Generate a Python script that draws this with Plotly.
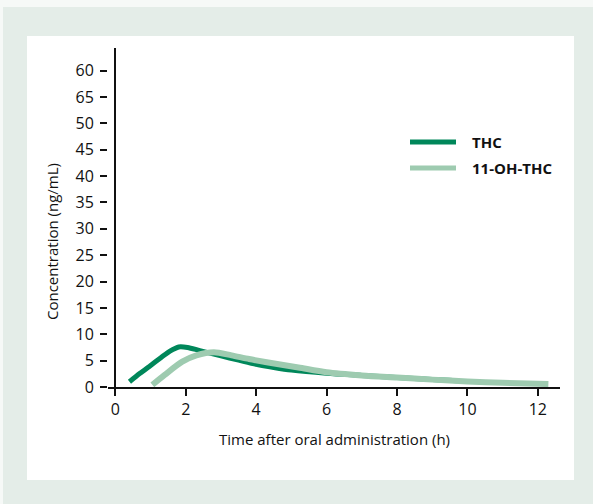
import plotly.graph_objects as go

# ---- data ----
thc_time = [0.4, 0.7, 1.0, 1.3, 1.55, 1.8, 2.05, 2.4, 3.0, 3.5, 4.0, 4.5, 5.0, 6.0, 7.0, 8.0, 9.0, 9.7]
thc_conc = [1.0, 2.6, 4.1, 5.6, 6.8, 7.6, 7.5, 6.9, 5.9, 5.1, 4.3, 3.7, 3.2, 2.6, 2.2, 1.8, 1.4, 1.2]

oh_time = [1.05, 1.4, 1.9, 2.3, 2.8, 3.3, 3.8, 4.3, 5.2, 6.0, 7.0, 8.0, 9.0, 10.0, 11.0, 12.3]
oh_conc = [0.4, 2.3, 4.8, 6.0, 6.6, 6.0, 5.3, 4.7, 3.7, 2.8, 2.2, 1.8, 1.4, 1.05, 0.8, 0.55]

series_names = ["THC", "11-OH-THC"]
x_ticks = [0, 2, 4, 6, 8, 10, 12]
y_tickvals = [0, 5, 10, 15, 20, 25, 30, 35, 40, 45, 50, 55, 60]
y_ticktext = ["0", "5", "10", "15", "20", "25", "30", "35", "40", "45", "50", "65", "60"]

DARK = "#00875a"
LIGHT = "#9ecbb0"
BG = "#e4ede8"
FONT = "'Open Sans', sans-serif"

W, H = 593, 504
L, R, T, B = 108, 33, 48, 117

fig = go.Figure()
fig.add_trace(go.Scatter(x=thc_time, y=thc_conc, mode="lines", name=series_names[0],
                         line=dict(color=DARK, width=5, shape="spline", smoothing=0.8),
                         showlegend=False))
fig.add_trace(go.Scatter(x=oh_time, y=oh_conc, mode="lines", name=series_names[1],
                         line=dict(color=LIGHT, width=6, shape="spline", smoothing=0.8),
                         showlegend=False))

def px2paper_x(px):
    return (px - L) / (W - L - R)

def px2paper_y(py):
    return (H - B - py) / (H - T - B)

shapes = [
    dict(type="rect", xref="paper", yref="paper", layer="below",
         x0=px2paper_x(0), x1=px2paper_x(W), y0=px2paper_y(7), y1=px2paper_y(0),
         fillcolor="#f6f9f7", line=dict(width=0)),
    dict(type="rect", xref="paper", yref="paper", layer="below",
         x0=px2paper_x(0), x1=px2paper_x(3), y0=px2paper_y(H), y1=px2paper_y(0),
         fillcolor="#f6f9f7", line=dict(width=0)),
    dict(type="rect", xref="paper", yref="paper", layer="below",
         x0=px2paper_x(27), x1=px2paper_x(574), y0=px2paper_y(480), y1=px2paper_y(36),
         fillcolor="white", line=dict(width=0)),
    dict(type="line", xref="paper", yref="paper",
         x0=px2paper_x(410), x1=px2paper_x(456), y0=px2paper_y(142), y1=px2paper_y(142),
         line=dict(color=DARK, width=5)),
    dict(type="line", xref="paper", yref="paper",
         x0=px2paper_x(410), x1=px2paper_x(456), y0=px2paper_y(168), y1=px2paper_y(168),
         line=dict(color=LIGHT, width=5)),
]

annotations = [
    dict(text=series_names[0], xref="paper", yref="paper", x=px2paper_x(470), y=px2paper_y(142),
         xanchor="left", yanchor="middle", showarrow=False,
         font=dict(family=FONT, size=15, color="#111111", weight="bold")),
    dict(text=series_names[1], xref="paper", yref="paper", x=px2paper_x(470), y=px2paper_y(168),
         xanchor="left", yanchor="middle", showarrow=False,
         font=dict(family=FONT, size=15, color="#111111", weight="bold")),
    dict(text="Concentration (ng/mL)", xref="paper", yref="paper", x=px2paper_x(52), y=px2paper_y(242),
         xanchor="center", yanchor="middle", textangle=-90, showarrow=False,
         font=dict(family=FONT, size=15, color="#111111")),
    dict(text="Time after oral administration (h)", xref="paper", yref="paper",
         x=px2paper_x(334), y=px2paper_y(439),
         xanchor="center", yanchor="middle", showarrow=False,
         font=dict(family=FONT, size=15, color="#111111")),
]

fig.update_layout(
    width=W, height=H,
    margin=dict(l=L, r=R, t=T, b=B, pad=0),
    paper_bgcolor=BG, plot_bgcolor="white",
    font=dict(family=FONT, size=14, color="#111111"),
    shapes=shapes, annotations=annotations,
    xaxis=dict(range=[-0.21, 12.63], tickvals=x_ticks, ticks="outside", ticklen=7,
               tickwidth=1.5, tickcolor="#111111", showline=True, linecolor="#111111",
               linewidth=1.5, showgrid=False, zeroline=True, zerolinecolor="#111111",
               zerolinewidth=1.5, tickfont=dict(size=16)),
    yaxis=dict(range=[0, 64.3], tickvals=y_tickvals, ticktext=y_ticktext,
               ticks="outside", ticklen=7, tickwidth=1.5, tickcolor="#111111",
               ticklabelstandoff=3,
               showline=False, showgrid=False, zeroline=False, tickfont=dict(size=16)),
)

fig.write_html("out.html", config={"displayModeBar": False},
               post_script="document.body.style.margin='0';document.body.style.padding='0';")
